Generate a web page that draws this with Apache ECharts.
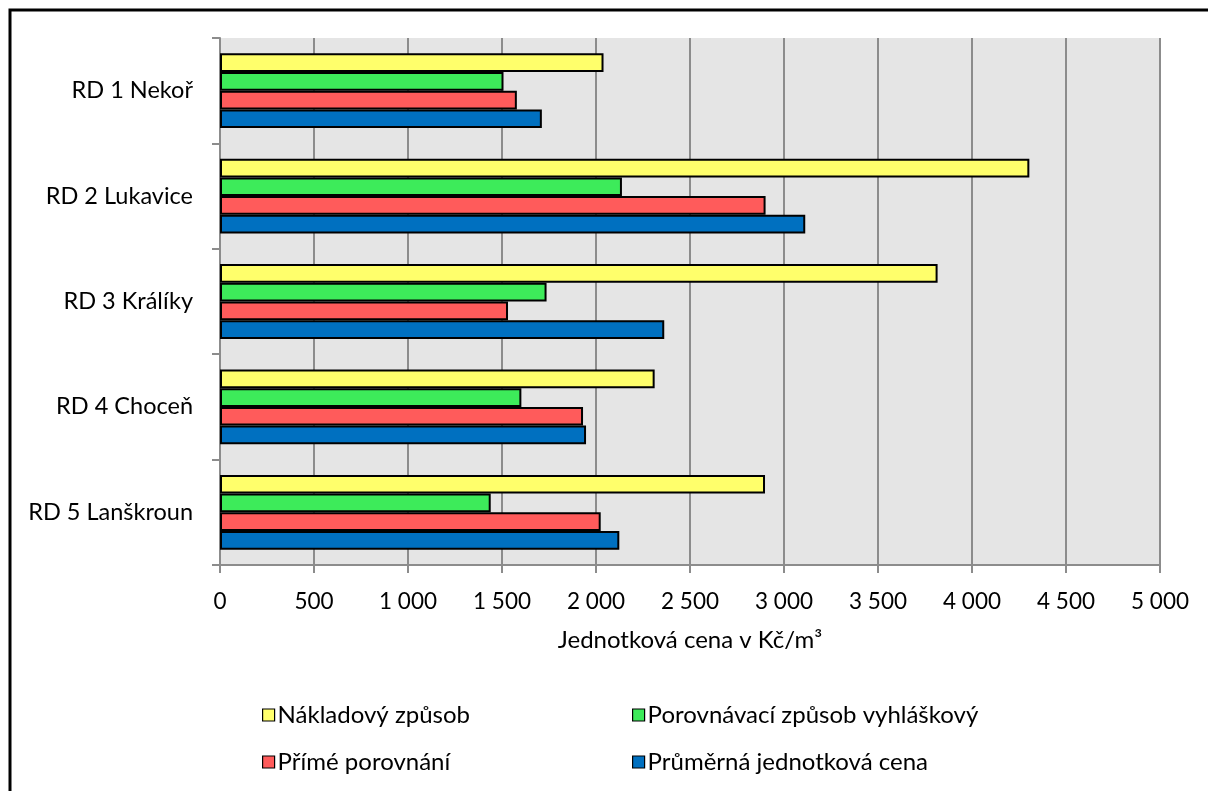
<!DOCTYPE html>
<html>
<head>
<meta charset="utf-8">
<script src="https://cdn.jsdelivr.net/npm/echarts@6/dist/echarts.min.js"></script>
<style>
html,body{margin:0;padding:0;background:#fff;}
#chart{width:1208px;height:791px;}
</style>
</head>
<body>
<div id="chart"></div>
<script>
const categories = ['RD 1 Nekoř', 'RD 2 Lukavice', 'RD 3 Králíky', 'RD 4 Choceň', 'RD 5 Lanškroun'];
const seriesNames = ['Nákladový způsob', 'Porovnávací způsob vyhláškový', 'Přímé porovnání', 'Průměrná jednotková cena'];
const nakladovy = [2040, 4305, 3817, 2312, 2899];
const porovnavaci = [1508, 2138, 1737, 1603, 1440];
const prime = [1579, 2902, 1532, 1931, 2025];
const prumerna = [1712, 3113, 2363, 1947, 2124];
const colors = ['#FFFF6B', '#3DEB5A', '#FF5B5B', '#0070C0'];
const axisTitle = 'Jednotková cena v Kč/m³';

const FONT = 'Lato';
const chart = echarts.init(document.getElementById('chart'), null, {renderer: 'canvas'});
const values = [nakladovy, porovnavaci, prime, prumerna];

const legendPos = [
  {left: 257, top: 698},
  {left: 627, top: 698},
  {left: 257, top: 745},
  {left: 627, top: 745}
];

const option = {
  animation: false,
  backgroundColor: '#ffffff',
  textStyle: {fontFamily: FONT},
  grid: {left: 220, top: 38, right: 48, bottom: 226, containLabel: false, show: true, backgroundColor: '#E5E5E5', borderWidth: 0},
  xAxis: {
    type: 'value',
    min: 0, max: 5000, interval: 500,
    name: axisTitle,
    nameLocation: 'middle',
    nameGap: 63,
    nameTextStyle: {fontSize: 24, color: '#000', fontFamily: FONT},
    axisLine: {show: true, lineStyle: {color: '#8C8C8C', width: 2}},
    axisTick: {show: true, length: 8, lineStyle: {color: '#8C8C8C', width: 2}},
    axisLabel: {fontSize: 22.5, color: '#000', margin: 25, fontFamily: FONT,
      formatter: v => v >= 1000 ? Math.floor(v/1000) + ' ' + String(v%1000).padStart(3,'0') : String(v)},
    splitLine: {show: true, lineStyle: {color: '#8C8C8C', width: 2}}
  },
  yAxis: {
    type: 'category',
    data: categories,
    inverse: true,
    axisLine: {show: true, lineStyle: {color: '#8C8C8C', width: 2}},
    axisTick: {show: true, length: 8, lineStyle: {color: '#8C8C8C', width: 2}},
    axisLabel: {fontSize: 23.5, color: '#000', margin: 27, fontFamily: FONT},
    splitLine: {show: false}
  },
  legend: seriesNames.map((n, i) => ({
    data: [n],
    left: legendPos[i].left, top: legendPos[i].top,
    icon: 'rect', itemWidth: 12, itemHeight: 12, itemGap: 8,
    textStyle: {fontSize: 24, color: '#000', fontFamily: FONT, padding: [0,0,0,-2]},
    itemStyle: {borderColor: '#000', borderWidth: 1.2}
  })),
  series: seriesNames.map((n, i) => ({
    name: n,
    type: 'bar',
    data: values[i],
    barGap: '0%',
    barCategoryGap: '29%',
    itemStyle: {color: colors[i], borderColor: '#000', borderWidth: 2}
  }))
};
chart.setOption(option);

chart.setOption({
  graphic: [{
    type: 'rect',
    shape: {x: 10, y: 10, width: 1300, height: 900},
    style: {fill: 'none', stroke: '#000', lineWidth: 3},
    silent: true, z: 100
  }]
});
</script>
</body>
</html>
